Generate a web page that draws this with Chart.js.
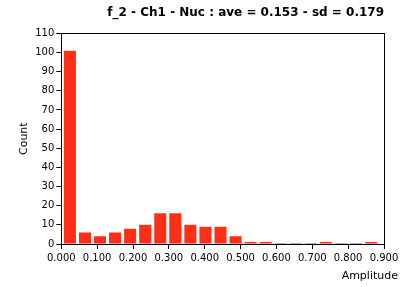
<!DOCTYPE html>
<html>
<head>
<meta charset="utf-8">
<script src="https://cdn.jsdelivr.net/npm/chart.js@4/dist/chart.umd.min.js"></script>
<style>
  html, body { margin: 0; padding: 0; background: #fff; }
  #wrap { width: 408px; height: 287px; }
</style>
</head>
<body>
<div id="wrap"><canvas id="histChart"></canvas></div>
<script>
var chartTitle = 'f_2 - Ch1 - Nuc : ave = 0.153 - sd = 0.179';
var xLabel = 'Amplitude';
var yLabel = 'Count';
// bin centres (amplitude) and counts
var binCenters = [0.024, 0.066, 0.108, 0.150, 0.192, 0.234, 0.276, 0.318, 0.360, 0.402, 0.444,
                  0.486, 0.528, 0.570, 0.612, 0.654, 0.696, 0.738, 0.780, 0.822, 0.864];
var counts = [101, 6, 4, 6, 8, 10, 16, 16, 10, 9, 9, 4, 1, 1, 0, 0, 0, 1, 0, 0, 1];

Chart.defaults.font.family = 'DejaVu Sans';
Chart.defaults.font.size = 10;
Chart.defaults.color = '#000';

// box around plot area + x axis label at bottom right
var framePlugin = {
    id: 'frame',
    afterDraw: function (chart) {
        var a = chart.chartArea;
        var c = chart.ctx;
        c.save();
        c.strokeStyle = '#000';
        c.lineWidth = 1;
        c.strokeRect(Math.round(a.left) + 0.5, Math.round(a.top) + 0.5,
            Math.round(a.right - a.left), Math.round(a.bottom - a.top));
        c.font = '11px DejaVu Sans';
        c.fillStyle = '#000';
        c.textAlign = 'right';
        c.textBaseline = 'bottom';
        c.fillText(xLabel, a.right + 14, chart.height - 5);
        c.restore();
    }
};

var ctx = document.getElementById('histChart').getContext('2d');
var myChart = new Chart(ctx, {
    type: 'bar',
    data: {
        datasets: [{
            label: yLabel,
            data: binCenters.map(function (c, i) { return { x: c, y: counts[i] }; }),
            backgroundColor: '#ff2e17',
            borderWidth: 0,
            barPercentage: 0.8,
            categoryPercentage: 1,
            minBarLength: 1
        }]
    },
    options: {
        responsive: true,
        maintainAspectRatio: false,
        animation: false,
        layout: { padding: { top: 4, right: 24, bottom: 20, left: 18 } },
        plugins: {
            legend: { display: false },
            tooltip: { enabled: false },
            title: {
                display: true,
                text: chartTitle,
                align: 'end',
                font: { size: 12, weight: 'bold' },
                padding: { top: 2, bottom: 13 }
            }
        },
        scales: {
            x: {
                type: 'linear',
                min: 0,
                max: 0.9,
                offset: false,
                grid: { offset: false, drawOnChartArea: false, color: '#000', tickLength: 5 },
                border: { color: '#000' },
                ticks: {
                    stepSize: 0.1,
                    maxRotation: 0,
                    padding: 3,
                    callback: function (v) { return v.toFixed(3); }
                }
            },
            y: {
                min: 0,
                max: 110,
                grid: { drawOnChartArea: false, color: '#000', tickLength: 5 },
                border: { color: '#000' },
                ticks: { stepSize: 10, padding: 2 },
                title: { display: true, text: yLabel, font: { size: 11 }, padding: { top: 0, bottom: 2 } }
            }
        }
    },
    plugins: [framePlugin]
});
</script>
</body>
</html>
